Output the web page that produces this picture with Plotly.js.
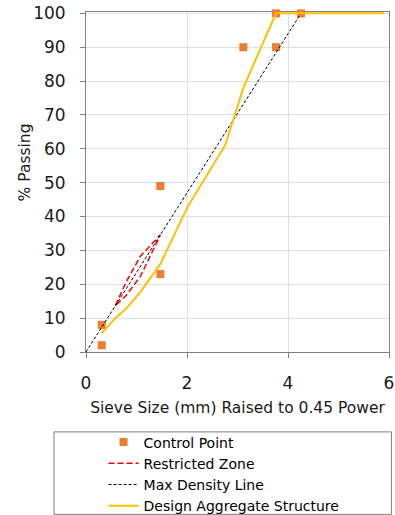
<!DOCTYPE html>
<html>
<head>
<meta charset="utf-8">
<script src="https://cdn.plot.ly/plotly-3.0.1.min.js"></script>
<style>html,body{margin:0;padding:0;background:#fff;}#chart{width:395px;height:515px;}</style>
</head>
<body>
<div id="chart"></div>
<script>
// Control points (sieve size^0.45, % passing)
const controlX = [0.312, 0.312, 1.472, 1.472, 3.116, 3.762, 3.762, 4.257];
const controlY = [2, 8, 23, 49, 90, 90, 100, 100];

// Restricted zone (closed polygon)
const restrictedX = [0.582, 0.795, 1.077, 1.472, 1.077, 0.795, 0.582];
const restrictedY = [13.7, 20.7, 28.3, 34.6, 22.3, 16.7, 13.7];

// Max density line
const maxDensityX = [0, 4.257];
const maxDensityY = [0, 100];

// Design aggregate structure
const designX = [0.312, 0.426, 0.582, 0.795, 1.077, 1.472, 2.016, 2.754, 3.116, 3.762, 4.257, 5.9];
const designY = [5.5, 7.5, 10, 12.8, 17.7, 26, 43, 61, 78, 100, 100, 100];

const xTicks = [0, 2, 4, 6];
const yTicks = [0, 10, 20, 30, 40, 50, 60, 70, 80, 90, 100];

const font = "DejaVu Sans, sans-serif";

const traces = [
  {x: controlX, y: controlY, mode: 'markers', name: 'Control Point', cliponaxis: false,
   marker: {symbol: 'square', color: '#ED7D31', size: 8}},
  {x: restrictedX, y: restrictedY, mode: 'lines', name: 'Restricted Zone',
   line: {color: '#FF0000', width: 1.5, dash: '6px,3px'}},
  {x: maxDensityX, y: maxDensityY, mode: 'lines', name: 'Max Density Line',
   line: {color: '#000000', width: 1, dash: '3px,2px'}},
  {x: designX, y: designY, mode: 'lines', name: 'Design Aggregate Structure',
   line: {color: '#FFC000', width: 2}}
];

const layout = {
  width: 395, height: 515,
  margin: {l: 86, r: 6, t: 12, b: 163, autoexpand: false},
  paper_bgcolor: '#fff', plot_bgcolor: '#fff',
  font: {family: font, color: '#000', size: 15},
  showlegend: true,
  legend: {x: 0.058, y: -0.219, xanchor: 'left', yanchor: 'top',
           bgcolor: 'rgba(0,0,0,0)', borderwidth: 0, font: {size: 14, color: '#000'},
           tracegroupgap: 0},
  xaxis: {range: [0, 6], tickvals: xTicks, ticktext: xTicks.map(String),
          showgrid: true, gridcolor: '#E0E0E0', gridwidth: 1, layer: 'below traces',
          zeroline: false, showline: true, mirror: true, linecolor: '#808080', linewidth: 1,
          ticks: 'outside', ticklen: 5, tickcolor: '#808080', ticklabelstandoff: 11,
          tickfont: {size: 17, color: '#1a1a1a'}, fixedrange: true, automargin: false,
          title: {text: 'Sieve Size (mm) Raised to 0.45 Power', font: {size: 15.5, color: '#1a1a1a'}, standoff: 9}},
  yaxis: {range: [0, 100.4], tickvals: yTicks, ticktext: yTicks.map(String),
          showgrid: true, gridcolor: '#E0E0E0', gridwidth: 1, layer: 'below traces',
          zeroline: false, showline: true, mirror: true, linecolor: '#808080', linewidth: 1,
          ticks: 'outside', ticklen: 5, tickcolor: '#808080', ticklabelstandoff: 11,
          tickfont: {size: 17, color: '#1a1a1a'}, fixedrange: true, automargin: false},
  annotations: [
    {text: '% Passing', xref: 'paper', yref: 'paper', x: -0.202, y: 0.557,
     xanchor: 'center', yanchor: 'middle', textangle: -90, showarrow: false,
     font: {size: 15.5, color: '#1a1a1a'}}
  ],
  shapes: [
    {type: 'rect', xref: 'paper', yref: 'paper', x0: -0.1056, x1: 1.008, y0: -0.4775, y1: -0.235,
     line: {color: '#7F7F7F', width: 1}, fillcolor: 'rgba(0,0,0,0)'}
  ]
};

Plotly.newPlot('chart', traces, layout, {displayModeBar: false, staticPlot: true});
</script>
</body>
</html>
